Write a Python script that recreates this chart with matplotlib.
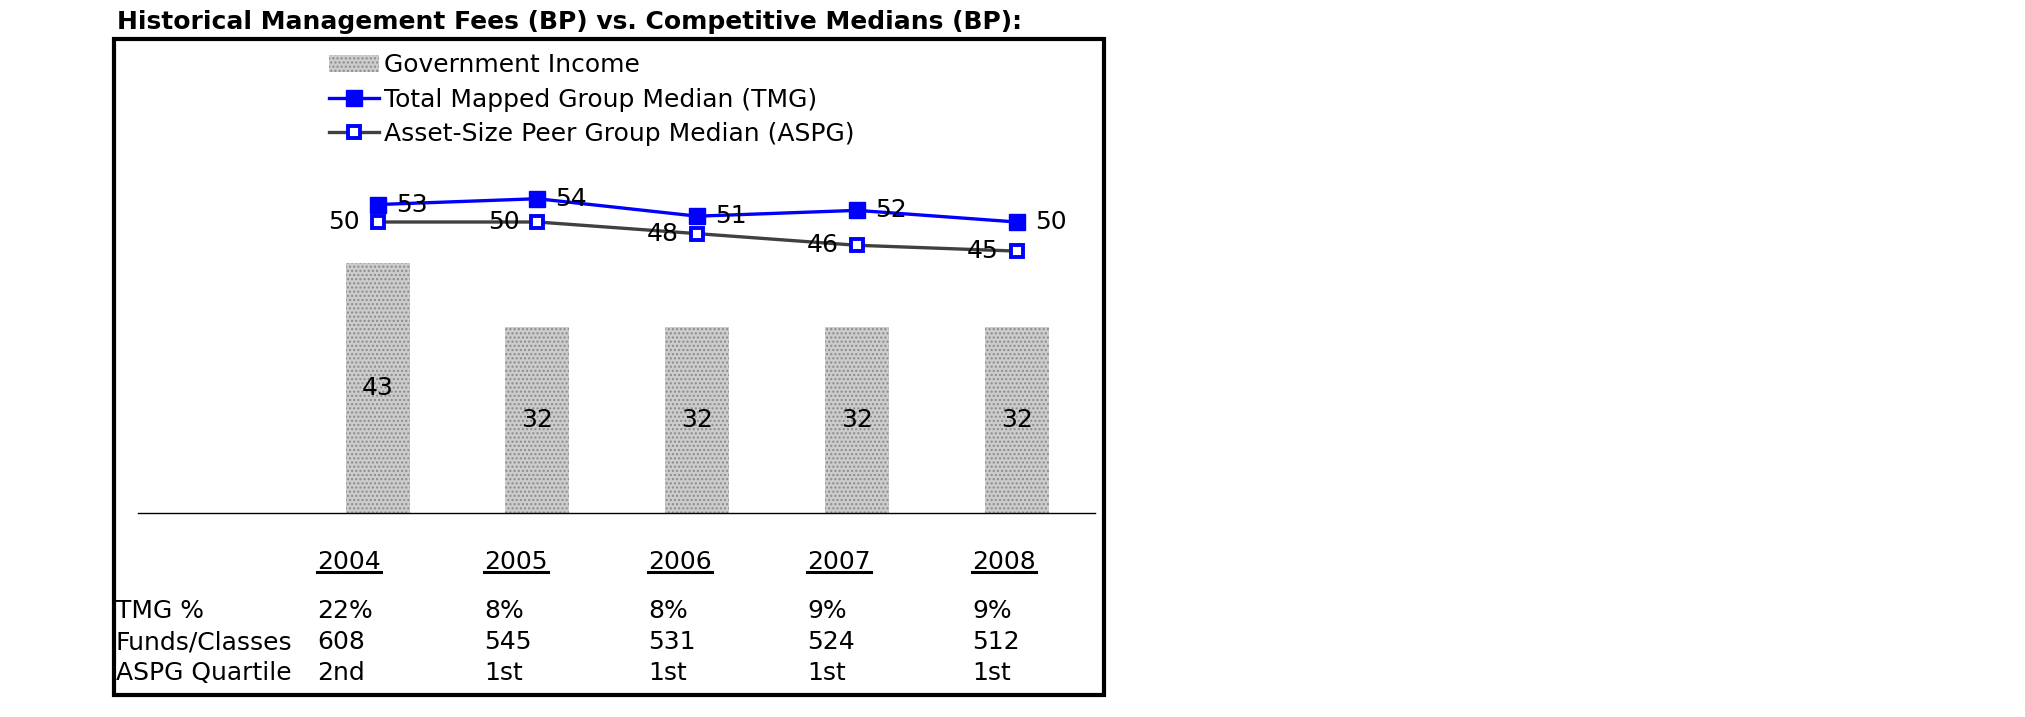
import numpy as np
import matplotlib
matplotlib.use('Agg')
import matplotlib.pyplot as plt
from matplotlib.patches import Rectangle
from matplotlib.lines import Line2D

W, H = 2025, 717
DPI = 100

# data
years = ["2004", "2005", "2006", "2007", "2008"]
gov_income = [43, 32, 32, 32, 32]
tmg_median = [53, 54, 51, 52, 50]
aspg_median = [50, 50, 48, 46, 45]

row_labels = ["TMG %", "Funds/Classes", "ASPG Quartile"]
tmg_pct = ["22%", "8%", "8%", "9%", "9%"]
funds_classes = ["608", "545", "531", "524", "512"]
aspg_quartile = ["2nd", "1st", "1st", "1st", "1st"]

TITLE = "Historical Management Fees (BP) vs. Competitive Medians (BP):"
BLUE = '#0000ff'
GREY_LINE = '#404040'
FS = 18


def fx(px):
    return px / W


def fy(py):
    return 1 - py / H


fig = plt.figure(figsize=(W / DPI, H / DPI), dpi=DPI)
fig.patch.set_facecolor('white')

# plot area (baseline at y=513 px, ~5.82 px per BP)
ax = fig.add_axes([fx(138), fy(513), fx(1095) - fx(138), (513 - 45) / H])
x = np.arange(len(years))
bars = ax.bar(x, gov_income, width=0.4, color='#cccccc', edgecolor='#8a8a8a',
              linewidth=0, hatch='....', label='Government Income')
ax.bar_label(bars, label_type='center', fontsize=FS)

l_tmg, = ax.plot(x, tmg_median, color=BLUE, lw=2.4, marker='s', ms=12, mfc=BLUE, mec=BLUE,
                 label='Total Mapped Group Median (TMG)', zorder=4)
l_aspg, = ax.plot(x, aspg_median, color=GREY_LINE, lw=2.4, marker='s', ms=9, mfc='white',
                  mec=BLUE, mew=2.8, label='Asset-Size Peer Group Median (ASPG)', zorder=3)

for xi, v in zip(x, tmg_median):
    ax.annotate(str(v), (xi, v), xytext=(13, 0), textcoords='offset points',
                ha='left', va='center', fontsize=FS, zorder=5)
for xi, v in zip(x, aspg_median):
    ax.annotate(str(v), (xi, v), xytext=(-13, 0), textcoords='offset points',
                ha='right', va='center', fontsize=FS, zorder=5)

ax.set_xlim(-1.5, 4.49)
ax.set_ylim(0, (513 - 45) / 5.82)
for s in ['top', 'left', 'right']:
    ax.spines[s].set_visible(False)
ax.spines['bottom'].set_linewidth(1.0)
ax.set_xticks([])
ax.set_yticks([])
ax.patch.set_alpha(0)

ax.legend(handles=[bars, l_tmg, l_aspg], loc='upper left',
          bbox_to_anchor=(fx(329), fy(53)), bbox_transform=fig.transFigure,
          frameon=False, fontsize=FS, handlelength=2.0, handletextpad=0.22,
          labelspacing=0.42, borderpad=0, borderaxespad=0)

# title and frame
fig.text(fx(117), fy(22), TITLE, fontsize=FS, fontweight='bold', ha='left', va='center')
fig.add_artist(Rectangle((fx(114), fy(695)), fx(1104) - fx(114), (695 - 39) / H,
                         transform=fig.transFigure, fill=False, lw=3, ec='black'))

# table under the chart
col_x = [317, 484, 648, 807, 972]
row_base = [618, 649, 680]
year_texts = []
for cx, yr in zip(col_x, years):
    year_texts.append(fig.text(fx(cx), fy(569), yr, fontsize=FS, ha='left', va='baseline'))
for ry, lab, vals in zip(row_base, row_labels, [tmg_pct, funds_classes, aspg_quartile]):
    fig.text(fx(116), fy(ry), lab, fontsize=FS, ha='left', va='baseline')
    for cx, v in zip(col_x, vals):
        fig.text(fx(cx), fy(ry), v, fontsize=FS, ha='left', va='baseline')

# underline the year headers
fig.canvas.draw()
renderer = fig.canvas.get_renderer()
inv = fig.transFigure.inverted()
for t in year_texts:
    bb = t.get_window_extent(renderer)
    (x0, _), (x1, _) = inv.transform([(bb.x0, bb.y0), (bb.x1, bb.y0)])
    yl = fy(571.5)
    fig.add_artist(Line2D([x0, x1], [yl, yl], transform=fig.transFigure, color='black', lw=2.2))

fig.savefig('out.png', dpi=DPI, facecolor='white')
